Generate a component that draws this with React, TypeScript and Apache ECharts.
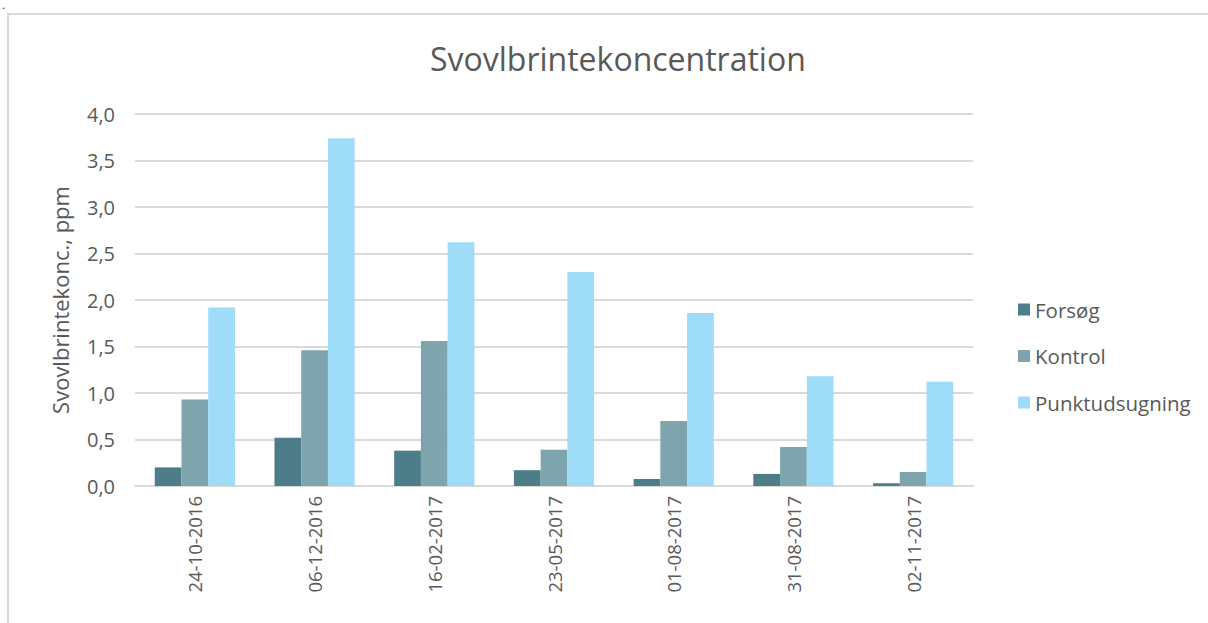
import React, { useEffect, useRef } from "react";
import * as echarts from "echarts";

const categories = ["24-10-2016", "06-12-2016", "16-02-2017", "23-05-2017", "01-08-2017", "31-08-2017", "02-11-2017"];
const forsog = [0.2, 0.52, 0.38, 0.17, 0.075, 0.13, 0.03];
const kontrol = [0.93, 1.46, 1.56, 0.39, 0.7, 0.42, 0.15];
const punkt = [1.92, 3.74, 2.62, 2.3, 1.86, 1.18, 1.12];
const seriesNames = ["Forsøg", "Kontrol", "Punktudsugning"];
const colors = ["#4E7D8A", "#7EA4AD", "#9EDCF7"];

const FONT = "Open Sans";
const TXT = "#595959";

export default function App() {
  const ref = useRef<HTMLDivElement>(null);
  useEffect(() => {
    const chart = echarts.init(ref.current!, null, { renderer: "svg" });
    const data = [forsog, kontrol, punkt];
    chart.setOption({
      animation: false,
      backgroundColor: "#fff",
      title: {
        text: "Svovlbrintekoncentration",
        left: 425,
        top: 37,
        textStyle: { fontFamily: FONT, fontSize: 32, fontWeight: "normal", color: TXT },
      },
      graphic: [
        { type: "rect", shape: { x: 8, y: 14, width: 1230, height: 640 }, style: { fill: "none", stroke: "#d9d9d9", lineWidth: 2 } },
        { type: "text", x: 2, y: 0, style: { text: ".", fontSize: 10, fill: "#000", fontFamily: "DejaVu Sans" } },
      ],
      legend: {
        orient: "vertical",
        left: 1013,
        top: 294,
        itemWidth: 12,
        itemHeight: 12,
        itemGap: 25.5,
        icon: "rect",
        textStyle: { fontFamily: FONT, fontSize: 20.5, color: TXT },
        data: seriesNames,
      },
      grid: { left: 135, right: 235, top: 114, bottom: 137, containLabel: false },
      xAxis: {
        type: "category",
        data: categories,
        axisLine: { lineStyle: { color: "#d9d9d9", width: 2 } },
        axisTick: { show: false },
        axisLabel: { rotate: 90, margin: 10, fontFamily: FONT, fontSize: 18.5, color: TXT },
      },
      yAxis: {
        type: "value",
        min: 0,
        max: 4,
        interval: 0.5,
        name: "Svovlbrintekonc., ppm",
        nameLocation: "middle",
        nameRotate: 90,
        nameGap: 64,
        nameTextStyle: { fontFamily: FONT, fontSize: 22, color: TXT },
        axisLabel: {
          margin: 20,
          fontFamily: FONT,
          fontSize: 20,
          color: TXT,
          formatter: (v: number) => v.toFixed(1).replace(".", ","),
        },
        splitLine: { lineStyle: { color: "#d9d9d9", width: 2 } },
        axisLine: { show: false },
        axisTick: { show: false },
      },
      series: seriesNames.map((n, i) => ({
        name: n,
        type: "bar",
        data: data[i],
        barGap: "0%",
        barCategoryGap: "33%",
        itemStyle: { color: colors[i] },
      })),
    });
    return () => chart.dispose();
  }, []);
  return <div ref={ref} style={{ position: "absolute", left: 0, top: 0, width: 1208, height: 623 }} />;
}
